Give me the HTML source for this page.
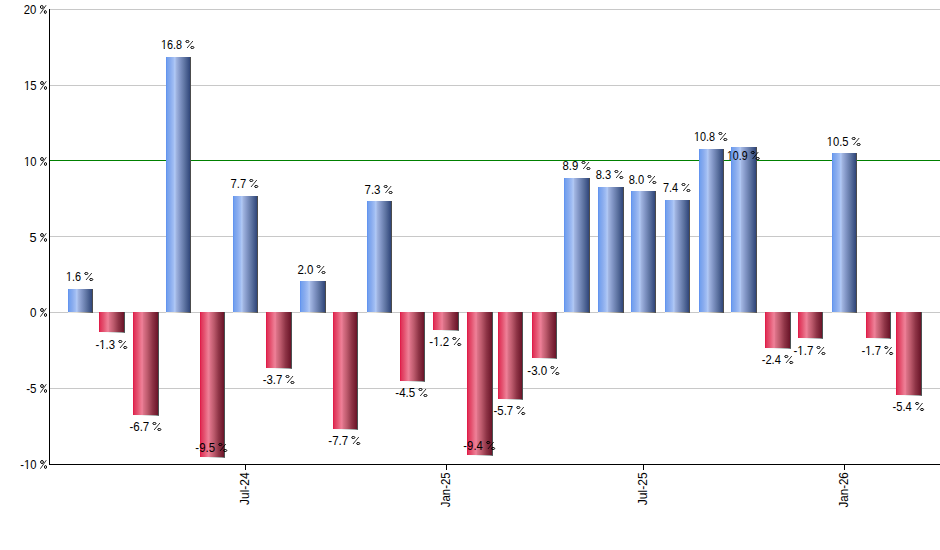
<!DOCTYPE html>
<html><head><meta charset="utf-8"><style>
html,body{margin:0;padding:0;background:#fff;}
body{width:940px;height:550px;overflow:hidden;}
svg{display:block;}
text{font-family:"Liberation Sans",sans-serif;font-size:12.5px;fill:#000;}
</style></head><body>
<svg width="940" height="550" viewBox="0 0 940 550">
<defs>
<linearGradient id="gb" x1="0" y1="0" x2="1" y2="0">
<stop offset="0" stop-color="#5a8cf0"/>
<stop offset="0.05" stop-color="#72a0ee"/>
<stop offset="0.18" stop-color="#88abee"/>
<stop offset="0.32" stop-color="#a2bef3"/>
<stop offset="0.37" stop-color="#b2caf6"/>
<stop offset="0.42" stop-color="#a2b6e2"/>
<stop offset="0.58" stop-color="#8296c6"/>
<stop offset="0.78" stop-color="#5c72a0"/>
<stop offset="1" stop-color="#30467a"/>
</linearGradient>
<linearGradient id="gr" x1="0" y1="0" x2="1" y2="0">
<stop offset="0" stop-color="#e01040"/>
<stop offset="0.05" stop-color="#e03258"/>
<stop offset="0.18" stop-color="#e45270"/>
<stop offset="0.32" stop-color="#ec7890"/>
<stop offset="0.37" stop-color="#ee8098"/>
<stop offset="0.42" stop-color="#dc7288"/>
<stop offset="0.58" stop-color="#bc5a6c"/>
<stop offset="0.78" stop-color="#8e3446"/>
<stop offset="1" stop-color="#6a1428"/>
</linearGradient>
<linearGradient id="gs" x1="0" y1="0" x2="1" y2="0">
<stop offset="0" stop-color="#ffffff"/>
<stop offset="0.33" stop-color="#f6f8f8"/>
<stop offset="0.6" stop-color="#d0d4d4"/>
<stop offset="0.88" stop-color="#9aa0a0"/>
<stop offset="1" stop-color="#5a6060"/>
</linearGradient>
<linearGradient id="gp" x1="0" y1="0" x2="1" y2="0">
<stop offset="0" stop-color="#ece9e2"/>
<stop offset="0.35" stop-color="#e2dfd8"/>
<stop offset="0.65" stop-color="#aaa8a2"/>
<stop offset="0.88" stop-color="#727270"/>
<stop offset="1" stop-color="#4a4a4a"/>
</linearGradient>
</defs>
<rect x="0" y="0" width="940" height="550" fill="#fff"/>
<g shape-rendering="crispEdges">

<rect x="50" y="9" width="890" height="1" fill="#c8c8c8"/>
<rect x="50" y="85" width="890" height="1" fill="#c8c8c8"/>
<rect x="50" y="236" width="890" height="1" fill="#c8c8c8"/>
<rect x="50" y="312" width="890" height="1" fill="#c8c8c8"/>
<rect x="50" y="388" width="890" height="1" fill="#c8c8c8"/>
<rect x="50" y="160" width="890" height="1" fill="#008000"/>
<rect x="68" y="289" width="24" height="23" fill="url(#gb)"/>
<rect x="92" y="289" width="1" height="24" fill="#4c4c4c"/>
<rect x="68" y="312" width="25" height="1" fill="url(#gp)"/>
<rect x="99" y="312" width="25" height="20" fill="url(#gr)"/>
<rect x="124" y="312" width="1" height="21" fill="#4a5252"/>
<rect x="99" y="332" width="26" height="1" fill="url(#gs)"/>
<rect x="133" y="312" width="25" height="103" fill="url(#gr)"/>
<rect x="158" y="312" width="1" height="104" fill="#4a5252"/>
<rect x="133" y="415" width="26" height="1" fill="url(#gs)"/>
<rect x="166" y="57" width="24" height="255" fill="url(#gb)"/>
<rect x="190" y="57" width="1" height="256" fill="#4c4c4c"/>
<rect x="166" y="312" width="25" height="1" fill="url(#gp)"/>
<rect x="200" y="312" width="24" height="145" fill="url(#gr)"/>
<rect x="224" y="312" width="1" height="146" fill="#4a5252"/>
<rect x="200" y="457" width="25" height="1" fill="url(#gs)"/>
<rect x="233" y="196" width="24" height="116" fill="url(#gb)"/>
<rect x="257" y="196" width="1" height="117" fill="#4c4c4c"/>
<rect x="233" y="312" width="25" height="1" fill="url(#gp)"/>
<rect x="266" y="312" width="25" height="56" fill="url(#gr)"/>
<rect x="291" y="312" width="1" height="57" fill="#4a5252"/>
<rect x="266" y="368" width="26" height="1" fill="url(#gs)"/>
<rect x="300" y="281" width="25" height="31" fill="url(#gb)"/>
<rect x="325" y="281" width="1" height="32" fill="#4c4c4c"/>
<rect x="300" y="312" width="26" height="1" fill="url(#gp)"/>
<rect x="333" y="312" width="24" height="117" fill="url(#gr)"/>
<rect x="357" y="312" width="1" height="118" fill="#4a5252"/>
<rect x="333" y="429" width="25" height="1" fill="url(#gs)"/>
<rect x="367" y="201" width="24" height="111" fill="url(#gb)"/>
<rect x="391" y="201" width="1" height="112" fill="#4c4c4c"/>
<rect x="367" y="312" width="25" height="1" fill="url(#gp)"/>
<rect x="400" y="312" width="24" height="69" fill="url(#gr)"/>
<rect x="424" y="312" width="1" height="70" fill="#4a5252"/>
<rect x="400" y="381" width="25" height="1" fill="url(#gs)"/>
<rect x="433" y="312" width="25" height="18" fill="url(#gr)"/>
<rect x="458" y="312" width="1" height="19" fill="#4a5252"/>
<rect x="433" y="330" width="26" height="1" fill="url(#gs)"/>
<rect x="467" y="312" width="25" height="143" fill="url(#gr)"/>
<rect x="492" y="312" width="1" height="144" fill="#4a5252"/>
<rect x="467" y="455" width="26" height="1" fill="url(#gs)"/>
<rect x="498" y="312" width="24" height="87" fill="url(#gr)"/>
<rect x="522" y="312" width="1" height="88" fill="#4a5252"/>
<rect x="498" y="399" width="25" height="1" fill="url(#gs)"/>
<rect x="532" y="312" width="24" height="46" fill="url(#gr)"/>
<rect x="556" y="312" width="1" height="47" fill="#4a5252"/>
<rect x="532" y="358" width="25" height="1" fill="url(#gs)"/>
<rect x="564" y="178" width="25" height="134" fill="url(#gb)"/>
<rect x="589" y="178" width="1" height="135" fill="#4c4c4c"/>
<rect x="564" y="312" width="26" height="1" fill="url(#gp)"/>
<rect x="598" y="187" width="25" height="125" fill="url(#gb)"/>
<rect x="623" y="187" width="1" height="126" fill="#4c4c4c"/>
<rect x="598" y="312" width="26" height="1" fill="url(#gp)"/>
<rect x="631" y="191" width="24" height="121" fill="url(#gb)"/>
<rect x="655" y="191" width="1" height="122" fill="#4c4c4c"/>
<rect x="631" y="312" width="25" height="1" fill="url(#gp)"/>
<rect x="665" y="200" width="24" height="112" fill="url(#gb)"/>
<rect x="689" y="200" width="1" height="113" fill="#4c4c4c"/>
<rect x="665" y="312" width="25" height="1" fill="url(#gp)"/>
<rect x="699" y="149" width="24" height="163" fill="url(#gb)"/>
<rect x="723" y="149" width="1" height="164" fill="#4c4c4c"/>
<rect x="699" y="312" width="25" height="1" fill="url(#gp)"/>
<rect x="731" y="147" width="25" height="165" fill="url(#gb)"/>
<rect x="756" y="147" width="1" height="166" fill="#4c4c4c"/>
<rect x="731" y="312" width="26" height="1" fill="url(#gp)"/>
<rect x="765" y="312" width="25" height="36" fill="url(#gr)"/>
<rect x="790" y="312" width="1" height="37" fill="#4a5252"/>
<rect x="765" y="348" width="26" height="1" fill="url(#gs)"/>
<rect x="798" y="312" width="24" height="26" fill="url(#gr)"/>
<rect x="822" y="312" width="1" height="27" fill="#4a5252"/>
<rect x="798" y="338" width="25" height="1" fill="url(#gs)"/>
<rect x="832" y="153" width="24" height="159" fill="url(#gb)"/>
<rect x="856" y="153" width="1" height="160" fill="#4c4c4c"/>
<rect x="832" y="312" width="25" height="1" fill="url(#gp)"/>
<rect x="866" y="312" width="24" height="26" fill="url(#gr)"/>
<rect x="890" y="312" width="1" height="27" fill="#4a5252"/>
<rect x="866" y="338" width="25" height="1" fill="url(#gs)"/>
<rect x="896" y="312" width="25" height="83" fill="url(#gr)"/>
<rect x="921" y="312" width="1" height="84" fill="#4a5252"/>
<rect x="896" y="395" width="26" height="1" fill="url(#gs)"/>
<rect x="49" y="9" width="1" height="456" fill="#000"/>
<rect x="49" y="464" width="891" height="1" fill="#000"/>
<rect x="245" y="465" width="1" height="5" fill="#000"/>
<rect x="446" y="465" width="1" height="5" fill="#000"/>
<rect x="643" y="465" width="1" height="5" fill="#000"/>
<rect x="844" y="465" width="1" height="5" fill="#000"/>
</g>
<text transform="translate(23.76,14) scale(0.906,1)">20</text>
<g fill="none" stroke="#000"><ellipse cx="41.80" cy="7.00" rx="1.4" ry="1.5" stroke-width="1"/><ellipse cx="45.30" cy="12.00" rx="1.0" ry="1.5" stroke-width="1"/><line x1="40.20" y1="13.70" x2="46.10" y2="5.20" stroke-width="0.8"/></g>
<clipPath id="c1" clipPathUnits="userSpaceOnUse"><path clip-rule="evenodd" d="M-5,-20H18.90V10H-5ZM-0.80,-1.0H3.10V1.5H-0.80ZM4.25,-1.0H7.00V1.5H4.25Z"/></clipPath><text transform="translate(23.89,90) scale(0.911,1)" clip-path="url(#c1)">15</text>
<g fill="none" stroke="#000"><ellipse cx="42.00" cy="83.00" rx="1.4" ry="1.5" stroke-width="1"/><ellipse cx="45.50" cy="88.00" rx="1.0" ry="1.5" stroke-width="1"/><line x1="40.40" y1="89.70" x2="46.30" y2="81.20" stroke-width="0.8"/></g>
<clipPath id="c2" clipPathUnits="userSpaceOnUse"><path clip-rule="evenodd" d="M-5,-20H18.90V10H-5ZM-0.80,-1.0H3.10V1.5H-0.80ZM4.25,-1.0H7.00V1.5H4.25Z"/></clipPath><text transform="translate(24.00,166) scale(0.903,1)" clip-path="url(#c2)">10</text>
<g fill="none" stroke="#000"><ellipse cx="42.00" cy="159.00" rx="1.4" ry="1.5" stroke-width="1"/><ellipse cx="45.50" cy="164.00" rx="1.0" ry="1.5" stroke-width="1"/><line x1="40.40" y1="165.70" x2="46.30" y2="157.20" stroke-width="0.8"/></g>
<text transform="translate(29.59,242) scale(1.017,1)">5</text>
<g fill="none" stroke="#000"><ellipse cx="42.00" cy="235.00" rx="1.4" ry="1.5" stroke-width="1"/><ellipse cx="45.50" cy="240.00" rx="1.0" ry="1.5" stroke-width="1"/><line x1="40.40" y1="241.70" x2="46.30" y2="233.20" stroke-width="0.8"/></g>
<text transform="translate(30.03,317) scale(0.933,1)">0</text>
<g fill="none" stroke="#000"><ellipse cx="42.00" cy="310.00" rx="1.4" ry="1.5" stroke-width="1"/><ellipse cx="45.50" cy="315.00" rx="1.0" ry="1.5" stroke-width="1"/><line x1="40.40" y1="316.70" x2="46.30" y2="308.20" stroke-width="0.8"/></g>
<text transform="translate(26.24,393) scale(0.930,1)">-5</text>
<g fill="none" stroke="#000"><ellipse cx="42.00" cy="386.00" rx="1.4" ry="1.5" stroke-width="1"/><ellipse cx="45.50" cy="391.00" rx="1.0" ry="1.5" stroke-width="1"/><line x1="40.40" y1="392.70" x2="46.30" y2="384.20" stroke-width="0.8"/></g>
<clipPath id="c3" clipPathUnits="userSpaceOnUse"><path clip-rule="evenodd" d="M-5,-20H23.07V10H-5ZM3.36,-1.0H7.26V1.5H3.36ZM8.41,-1.0H11.16V1.5H8.41Z"/></clipPath><text transform="translate(20.26,469) scale(0.900,1)" clip-path="url(#c3)">-10</text>
<g fill="none" stroke="#000"><ellipse cx="42.00" cy="462.00" rx="1.4" ry="1.5" stroke-width="1"/><ellipse cx="45.50" cy="467.00" rx="1.0" ry="1.5" stroke-width="1"/><line x1="40.40" y1="468.70" x2="46.30" y2="460.20" stroke-width="0.8"/></g>
<clipPath id="c4" clipPathUnits="userSpaceOnUse"><path clip-rule="evenodd" d="M-5,-20H22.38V10H-5ZM-0.80,-1.0H3.10V1.5H-0.80ZM4.25,-1.0H7.00V1.5H4.25Z"/></clipPath><text transform="translate(65.93,281) scale(0.873,1)" clip-path="url(#c4)">1.6</text>
<g fill="none" stroke="#000"><ellipse cx="86.30" cy="273.50" rx="1.6" ry="1.0" stroke-width="1"/><ellipse cx="91.20" cy="279.50" rx="1.6" ry="1.0" stroke-width="1"/><line x1="86.00" y1="280.00" x2="91.80" y2="273.00" stroke-width="0.8"/></g>
<clipPath id="c5" clipPathUnits="userSpaceOnUse"><path clip-rule="evenodd" d="M-5,-20H26.54V10H-5ZM3.36,-1.0H7.26V1.5H3.36ZM8.41,-1.0H11.16V1.5H8.41Z"/></clipPath><text transform="translate(95.45,349) scale(0.912,1)" clip-path="url(#c5)">-1.3</text>
<g fill="none" stroke="#000"><ellipse cx="120.30" cy="341.50" rx="1.6" ry="1.0" stroke-width="1"/><ellipse cx="125.20" cy="347.50" rx="1.6" ry="1.0" stroke-width="1"/><line x1="120.00" y1="348.00" x2="125.80" y2="341.00" stroke-width="0.8"/></g>
<text transform="translate(129.45,431) scale(0.921,1)">-6.7</text>
<g fill="none" stroke="#000"><ellipse cx="154.40" cy="423.50" rx="1.6" ry="1.0" stroke-width="1"/><ellipse cx="159.30" cy="429.50" rx="1.6" ry="1.0" stroke-width="1"/><line x1="154.10" y1="430.00" x2="159.90" y2="423.00" stroke-width="0.8"/></g>
<clipPath id="c6" clipPathUnits="userSpaceOnUse"><path clip-rule="evenodd" d="M-5,-20H29.33V10H-5ZM-0.80,-1.0H3.10V1.5H-0.80ZM4.25,-1.0H7.00V1.5H4.25Z"/></clipPath><text transform="translate(161.03,49) scale(0.868,1)" clip-path="url(#c6)">16.8</text>
<g fill="none" stroke="#000"><ellipse cx="187.40" cy="41.50" rx="1.6" ry="1.0" stroke-width="1"/><ellipse cx="192.30" cy="47.50" rx="1.6" ry="1.0" stroke-width="1"/><line x1="187.10" y1="48.00" x2="192.90" y2="41.00" stroke-width="0.8"/></g>
<text transform="translate(195.35,452) scale(0.917,1)">-9.5</text>
<g fill="none" stroke="#000"><ellipse cx="220.30" cy="444.50" rx="1.6" ry="1.0" stroke-width="1"/><ellipse cx="225.20" cy="450.50" rx="1.6" ry="1.0" stroke-width="1"/><line x1="220.00" y1="451.00" x2="225.80" y2="444.00" stroke-width="0.8"/></g>
<text transform="translate(230.56,188) scale(0.901,1)">7.7</text>
<g fill="none" stroke="#000"><ellipse cx="251.30" cy="180.50" rx="1.6" ry="1.0" stroke-width="1"/><ellipse cx="256.20" cy="186.50" rx="1.6" ry="1.0" stroke-width="1"/><line x1="251.00" y1="187.00" x2="256.80" y2="180.00" stroke-width="0.8"/></g>
<text transform="translate(262.65,384) scale(0.916,1)">-3.7</text>
<g fill="none" stroke="#000"><ellipse cx="287.50" cy="376.50" rx="1.6" ry="1.0" stroke-width="1"/><ellipse cx="292.40" cy="382.50" rx="1.6" ry="1.0" stroke-width="1"/><line x1="287.20" y1="383.00" x2="293.00" y2="376.00" stroke-width="0.8"/></g>
<text transform="translate(297.40,274) scale(0.917,1)">2.0</text>
<g fill="none" stroke="#000"><ellipse cx="318.60" cy="266.50" rx="1.6" ry="1.0" stroke-width="1"/><ellipse cx="323.50" cy="272.50" rx="1.6" ry="1.0" stroke-width="1"/><line x1="318.30" y1="273.00" x2="324.10" y2="266.00" stroke-width="0.8"/></g>
<text transform="translate(328.35,445) scale(0.921,1)">-7.7</text>
<g fill="none" stroke="#000"><ellipse cx="353.30" cy="437.50" rx="1.6" ry="1.0" stroke-width="1"/><ellipse cx="358.20" cy="443.50" rx="1.6" ry="1.0" stroke-width="1"/><line x1="353.00" y1="444.00" x2="358.80" y2="437.00" stroke-width="0.8"/></g>
<text transform="translate(364.50,194) scale(0.923,1)">7.3</text>
<g fill="none" stroke="#000"><ellipse cx="385.70" cy="186.50" rx="1.6" ry="1.0" stroke-width="1"/><ellipse cx="390.60" cy="192.50" rx="1.6" ry="1.0" stroke-width="1"/><line x1="385.40" y1="193.00" x2="391.20" y2="186.00" stroke-width="0.8"/></g>
<text transform="translate(395.34,397) scale(0.926,1)">-4.5</text>
<g fill="none" stroke="#000"><ellipse cx="420.50" cy="389.50" rx="1.6" ry="1.0" stroke-width="1"/><ellipse cx="425.40" cy="395.50" rx="1.6" ry="1.0" stroke-width="1"/><line x1="420.20" y1="396.00" x2="426.00" y2="389.00" stroke-width="0.8"/></g>
<clipPath id="c7" clipPathUnits="userSpaceOnUse"><path clip-rule="evenodd" d="M-5,-20H26.54V10H-5ZM3.36,-1.0H7.26V1.5H3.36ZM8.41,-1.0H11.16V1.5H8.41Z"/></clipPath><text transform="translate(429.35,346) scale(0.921,1)" clip-path="url(#c7)">-1.2</text>
<g fill="none" stroke="#000"><ellipse cx="454.30" cy="338.50" rx="1.6" ry="1.0" stroke-width="1"/><ellipse cx="459.20" cy="344.50" rx="1.6" ry="1.0" stroke-width="1"/><line x1="454.00" y1="345.00" x2="459.80" y2="338.00" stroke-width="0.8"/></g>
<text transform="translate(463.36,450) scale(0.903,1)">-9.4</text>
<g fill="none" stroke="#000"><ellipse cx="488.20" cy="442.50" rx="1.6" ry="1.0" stroke-width="1"/><ellipse cx="493.10" cy="448.50" rx="1.6" ry="1.0" stroke-width="1"/><line x1="487.90" y1="449.00" x2="493.70" y2="442.00" stroke-width="0.8"/></g>
<text transform="translate(493.55,415) scale(0.911,1)">-5.7</text>
<g fill="none" stroke="#000"><ellipse cx="518.30" cy="407.50" rx="1.6" ry="1.0" stroke-width="1"/><ellipse cx="523.20" cy="413.50" rx="1.6" ry="1.0" stroke-width="1"/><line x1="518.00" y1="414.00" x2="523.80" y2="407.00" stroke-width="0.8"/></g>
<text transform="translate(527.35,375) scale(0.922,1)">-3.0</text>
<g fill="none" stroke="#000"><ellipse cx="552.40" cy="367.50" rx="1.6" ry="1.0" stroke-width="1"/><ellipse cx="557.30" cy="373.50" rx="1.6" ry="1.0" stroke-width="1"/><line x1="552.10" y1="374.00" x2="557.90" y2="367.00" stroke-width="0.8"/></g>
<text transform="translate(562.55,170) scale(0.908,1)">8.9</text>
<g fill="none" stroke="#000"><ellipse cx="583.50" cy="162.50" rx="1.6" ry="1.0" stroke-width="1"/><ellipse cx="588.40" cy="168.50" rx="1.6" ry="1.0" stroke-width="1"/><line x1="583.20" y1="169.00" x2="589.00" y2="162.00" stroke-width="0.8"/></g>
<text transform="translate(595.65,179) scale(0.896,1)">8.3</text>
<g fill="none" stroke="#000"><ellipse cx="616.40" cy="171.50" rx="1.6" ry="1.0" stroke-width="1"/><ellipse cx="621.30" cy="177.50" rx="1.6" ry="1.0" stroke-width="1"/><line x1="616.10" y1="178.00" x2="621.90" y2="171.00" stroke-width="0.8"/></g>
<text transform="translate(628.65,184) scale(0.890,1)">8.0</text>
<g fill="none" stroke="#000"><ellipse cx="649.40" cy="176.50" rx="1.6" ry="1.0" stroke-width="1"/><ellipse cx="654.30" cy="182.50" rx="1.6" ry="1.0" stroke-width="1"/><line x1="649.10" y1="183.00" x2="654.90" y2="176.00" stroke-width="0.8"/></g>
<text transform="translate(662.98,192) scale(0.872,1)">7.4</text>
<g fill="none" stroke="#000"><ellipse cx="683.50" cy="184.50" rx="1.6" ry="1.0" stroke-width="1"/><ellipse cx="688.40" cy="190.50" rx="1.6" ry="1.0" stroke-width="1"/><line x1="683.20" y1="191.00" x2="689.00" y2="184.00" stroke-width="0.8"/></g>
<clipPath id="c8" clipPathUnits="userSpaceOnUse"><path clip-rule="evenodd" d="M-5,-20H29.33V10H-5ZM-0.80,-1.0H3.10V1.5H-0.80ZM4.25,-1.0H7.00V1.5H4.25Z"/></clipPath><text transform="translate(694.03,141) scale(0.868,1)" clip-path="url(#c8)">10.8</text>
<g fill="none" stroke="#000"><ellipse cx="720.40" cy="133.50" rx="1.6" ry="1.0" stroke-width="1"/><ellipse cx="725.30" cy="139.50" rx="1.6" ry="1.0" stroke-width="1"/><line x1="720.10" y1="140.00" x2="725.90" y2="133.00" stroke-width="0.8"/></g>
<clipPath id="c9" clipPathUnits="userSpaceOnUse"><path clip-rule="evenodd" d="M-5,-20H29.33V10H-5ZM-0.80,-1.0H3.10V1.5H-0.80ZM4.25,-1.0H7.00V1.5H4.25Z"/></clipPath><text transform="translate(726.95,160) scale(0.850,1)" clip-path="url(#c9)">10.9</text>
<g fill="none" stroke="#000"><ellipse cx="752.80" cy="152.50" rx="1.6" ry="1.0" stroke-width="1"/><ellipse cx="757.70" cy="158.50" rx="1.6" ry="1.0" stroke-width="1"/><line x1="752.50" y1="159.00" x2="758.30" y2="152.00" stroke-width="0.8"/></g>
<text transform="translate(761.66,364) scale(0.893,1)">-2.4</text>
<g fill="none" stroke="#000"><ellipse cx="786.30" cy="356.50" rx="1.6" ry="1.0" stroke-width="1"/><ellipse cx="791.20" cy="362.50" rx="1.6" ry="1.0" stroke-width="1"/><line x1="786.00" y1="363.00" x2="791.80" y2="356.00" stroke-width="0.8"/></g>
<clipPath id="c10" clipPathUnits="userSpaceOnUse"><path clip-rule="evenodd" d="M-5,-20H26.54V10H-5ZM3.36,-1.0H7.26V1.5H3.36ZM8.41,-1.0H11.16V1.5H8.41Z"/></clipPath><text transform="translate(793.44,355) scale(0.926,1)" clip-path="url(#c10)">-1.7</text>
<g fill="none" stroke="#000"><ellipse cx="818.50" cy="347.50" rx="1.6" ry="1.0" stroke-width="1"/><ellipse cx="823.40" cy="353.50" rx="1.6" ry="1.0" stroke-width="1"/><line x1="818.20" y1="354.00" x2="824.00" y2="347.00" stroke-width="0.8"/></g>
<clipPath id="c11" clipPathUnits="userSpaceOnUse"><path clip-rule="evenodd" d="M-5,-20H29.33V10H-5ZM-0.80,-1.0H3.10V1.5H-0.80ZM4.25,-1.0H7.00V1.5H4.25Z"/></clipPath><text transform="translate(826.71,146) scale(0.895,1)" clip-path="url(#c11)">10.5</text>
<g fill="none" stroke="#000"><ellipse cx="853.70" cy="138.50" rx="1.6" ry="1.0" stroke-width="1"/><ellipse cx="858.60" cy="144.50" rx="1.6" ry="1.0" stroke-width="1"/><line x1="853.40" y1="145.00" x2="859.20" y2="138.00" stroke-width="0.8"/></g>
<clipPath id="c12" clipPathUnits="userSpaceOnUse"><path clip-rule="evenodd" d="M-5,-20H26.54V10H-5ZM3.36,-1.0H7.26V1.5H3.36ZM8.41,-1.0H11.16V1.5H8.41Z"/></clipPath><text transform="translate(861.56,355) scale(0.906,1)" clip-path="url(#c12)">-1.7</text>
<g fill="none" stroke="#000"><ellipse cx="886.20" cy="347.50" rx="1.6" ry="1.0" stroke-width="1"/><ellipse cx="891.10" cy="353.50" rx="1.6" ry="1.0" stroke-width="1"/><line x1="885.90" y1="354.00" x2="891.70" y2="347.00" stroke-width="0.8"/></g>
<text transform="translate(892.46,411) scale(0.893,1)">-5.4</text>
<g fill="none" stroke="#000"><ellipse cx="917.10" cy="403.50" rx="1.6" ry="1.0" stroke-width="1"/><ellipse cx="922.00" cy="409.50" rx="1.6" ry="1.0" stroke-width="1"/><line x1="916.80" y1="410.00" x2="922.60" y2="403.00" stroke-width="0.8"/></g>
<text transform="translate(248.70,504.89) rotate(-90) scale(0.955,1)">Jul-24</text>
<text transform="translate(449.80,507.18) rotate(-90) scale(0.912,1)">Jan-25</text>
<text transform="translate(647.20,505.19) rotate(-90) scale(0.967,1)">Jul-25</text>
<text transform="translate(847.90,507.38) rotate(-90) scale(0.920,1)">Jan-26</text>
</svg></body></html>
